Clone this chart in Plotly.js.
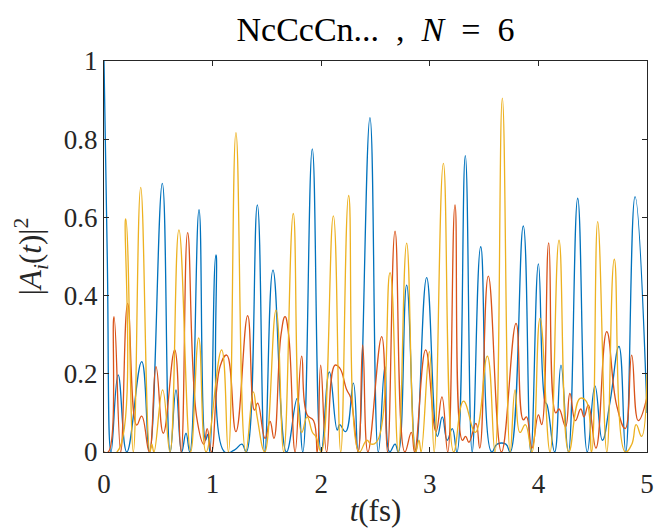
<!DOCTYPE html>
<html>
<head>
<meta charset="utf-8">
<script src="https://cdn.plot.ly/plotly-3.0.1.min.js"></script>
<style>html,body{margin:0;padding:0;background:#fff;}#chart{width:655px;height:530px;}</style>
</head>
<body>
<div id="chart"></div>
<script>
// Series 1 (blue)
const tBlue = [0,0.03,0.065,0.13,0.21,0.347,0.42,0.537,0.61,0.663,0.715,0.755,0.79,0.875,0.935,0.955,0.975,1.031,1.11,1.2,1.27,1.31,1.412,1.48,1.556,1.68,1.78,1.83,1.918,2.0,2.075,2.148,2.17,2.225,2.296,2.34,2.449,2.526,2.587,2.63,2.68,2.71,2.787,2.87,2.971,3.07,3.115,3.16,3.207,3.25,3.327,3.39,3.469,3.57,3.62,3.7,3.74,3.861,3.93,4.0,4.06,4.08,4.15,4.208,4.276,4.362,4.45,4.521,4.589,4.66,4.742,4.804,4.89,5.0];
const vBlue = [1.0,0.5,0.0,0.197,0.0,0.231,0.0,0.687,0.0,0.159,0.0,0.048,0.0,0.62,0.03,0.045,0.0,0.504,0.0,0.005,0.02,0.0,0.632,0.0,0.465,0.0,0.138,0.0,0.775,0.0,0.205,0.056,0.07,0.052,0.176,0.0,0.855,0.0,0.218,0.0,0.02,0.0,0.427,0.0,0.446,0.04,0.09,0.03,0.06,0.0,0.758,0.0,0.525,0.0,0.02,0.02,0.0,0.578,0.0,0.481,0.13,0.12,0.0,0.222,0.0,0.649,0.0,0.169,0.03,0.129,0.27,0.0,0.653,0.1];
// Series 2 (orange)
const tOrange = [0,0.04,0.092,0.154,0.218,0.301,0.347,0.417,0.479,0.546,0.651,0.71,0.77,0.853,0.92,0.95,0.99,1.07,1.13,1.215,1.323,1.385,1.415,1.483,1.529,1.565,1.63,1.667,1.7,1.76,1.82,1.87,1.93,1.964,1.995,2.05,2.127,2.17,2.235,2.27,2.34,2.382,2.43,2.557,2.61,2.68,2.77,2.83,2.86,2.962,3.057,3.112,3.165,3.232,3.3,3.33,3.36,3.425,3.46,3.539,3.66,3.794,3.861,3.89,3.94,4.0,4.03,4.095,4.16,4.19,4.25,4.29,4.34,4.39,4.42,4.46,4.53,4.629,4.72,4.8,4.859,4.92,5.0];
const vOrange = [0,0.0,0.346,0.0,0.38,0.069,0.092,0.0,0.218,0.048,0.261,0.0,0.561,0.09,0.02,0.06,0.0,0.22,0.248,0.052,0.349,0.107,0.125,0.035,0.078,0.035,0.3,0.346,0.3,0.0,0.245,0.095,0.08,0.0,0.222,0.0,0.222,0.215,0.159,0.14,0.0,0.274,0.0,0.295,0.0,0.565,0.0,0.05,0.0,0.261,0.052,0.141,0.0,0.632,0.03,0.04,0.025,0.073,0.01,0.45,0.0,0.329,0.082,0.09,0.01,0.095,0.07,0.535,0.1,0.11,0.065,0.15,0.08,0.11,0.09,0.12,0.01,0.308,0.12,0.06,0.248,0.08,0.14];
// Series 3 (yellow)
const tYellow = [0,0.12,0.2,0.27,0.338,0.423,0.44,0.46,0.54,0.607,0.69,0.798,0.872,0.94,1.083,1.145,1.215,1.305,1.375,1.41,1.48,1.584,1.655,1.743,1.82,1.87,1.92,1.95,2.0,2.112,2.18,2.253,2.35,2.42,2.46,2.52,2.634,2.71,2.787,2.87,2.9,2.92,2.996,3.04,3.125,3.22,3.31,3.42,3.53,3.6,3.668,3.74,3.785,3.83,3.88,3.94,4.015,4.107,4.19,4.28,4.383,4.44,4.49,4.546,4.63,4.699,4.8,4.86,4.9,4.95,5.0];
const vYellow = [0,0.0,0.596,0.0,0.677,0.0,0.02,0.0,0.159,0.0,0.568,0.0,0.292,0.0,0.261,0.0,0.817,0.0,0.154,0.09,0.0,0.363,0.0,0.61,0.05,0.09,0.05,0.04,0.0,0.604,0.0,0.656,0.0,0.03,0.02,0.03,0.459,0.0,0.534,0.0,0.03,0.0,0.257,0.0,0.738,0.0,0.13,0.05,0.245,0.0,0.905,0.0,0.159,0.05,0.07,0.0,0.342,0.0,0.542,0.0,0.137,0.13,0.0,0.589,0.0,0.493,0.0,0.02,0.07,0.04,0.2];

const xTicks = [0,1,2,3,4,5];
const yTicks = [0,0.2,0.4,0.6,0.8,1];
const yTickText = ['0','0.2','0.4','0.6','0.8','1'];

const serif = '"Liberation Serif", "DejaVu Serif", serif';
function tr(x, y, c) {
  return {x: x, y: y, type: 'scatter', mode: 'lines',
    line: {color: c, width: 1.3, shape: 'spline', smoothing: 1.3}, hoverinfo: 'skip'};
}
const data = [tr(tBlue, vBlue, '#0072BD'), tr(tOrange, vOrange, '#D95319'), tr(tYellow, vYellow, '#EDB120')];
const axisCommon = {showline: true, mirror: 'ticks', linecolor: '#262626', linewidth: 1,
  ticks: 'inside', ticklen: 5, tickcolor: '#262626', showgrid: false, zeroline: false,
  tickfont: {family: serif, size: 27, color: '#262626'}};
const layout = {
  width: 655, height: 530,
  margin: {l: 104, r: 8, t: 61, b: 78},
  paper_bgcolor: '#fff', plot_bgcolor: '#fff',
  showlegend: false,
  title: {text: 'NcCcCn...&nbsp; ,&nbsp; <i>N</i>&nbsp; =&nbsp; 6', font: {family: serif, size: 34, color: '#000'},
    xref: 'paper', x: 0.5, xanchor: 'center', yref: 'container', y: 0.945, yanchor: 'middle'},
  xaxis: Object.assign({}, axisCommon, {range: [0, 5], tickvals: xTicks, ticktext: xTicks.map(String),
    ticklabelstandoff: 8,
    title: {text: '<i>t</i>(fs)', font: {family: serif, size: 31, color: '#262626'}, standoff: 0}}),
  yaxis: Object.assign({}, axisCommon, {range: [0, 1], tickvals: yTicks, ticktext: yTickText,
    title: {text: '|<i>A<sub>i</sub></i>(<i>t</i>)|<sup>2</sup>', font: {family: serif, size: 31, color: '#262626'}, standoff: 12}})
};
Plotly.newPlot('chart', data, layout, {displayModeBar: false, staticPlot: true});
</script>
</body>
</html>
